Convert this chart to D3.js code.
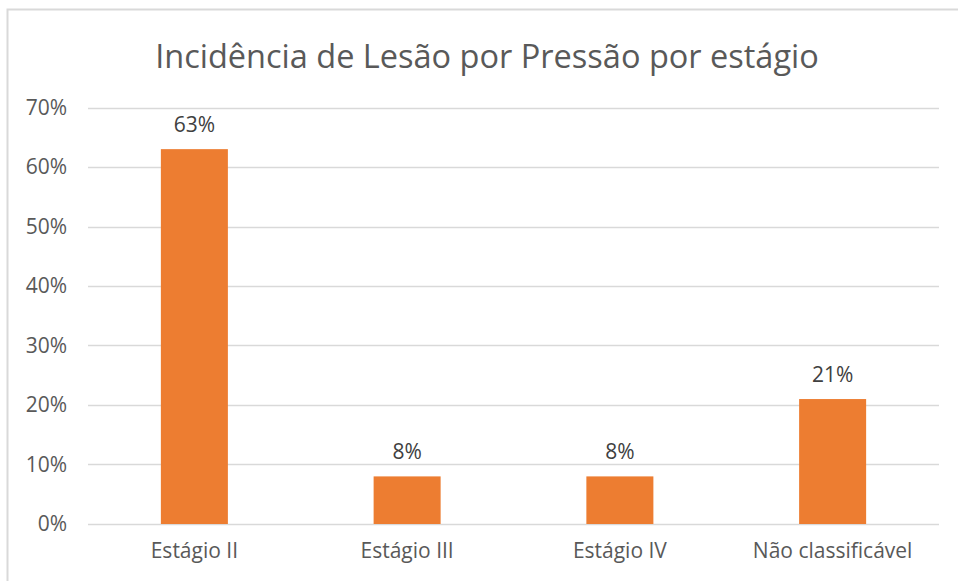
<!DOCTYPE html>
<html>
<head>
<meta charset="utf-8">
<script src="https://cdn.jsdelivr.net/npm/d3@7"></script>
<style>
  html, body { margin: 0; padding: 0; background: #fff; }
  svg { display: block; font-family: "Open Sans", "Noto Sans", sans-serif; }
</style>
</head>
<body>
<svg id="chart"></svg>
<script>
const categories = ['Estágio II', 'Estágio III', 'Estágio IV', 'Não classificável'];
const values = [0.63, 0.08, 0.08, 0.21];
const yTicks = [0, 0.1, 0.2, 0.3, 0.4, 0.5, 0.6, 0.7];
const title = 'Incidência de Lesão por Pressão por estágio';

const width = 958;
const height = 581;
const margin = { top: 107.5, right: 19, bottom: 57, left: 88 };

const svg = d3.select('#chart')
  .attr('width', width)
  .attr('height', height)
  .attr('viewBox', `0 0 ${width} ${height}`);

// chart frame (cropped on right/bottom in the original)
svg.append('rect')
  .attr('x', 7.5)
  .attr('y', 9.5)
  .attr('width', 1000)
  .attr('height', 1000)
  .attr('fill', '#fff')
  .attr('stroke', '#d9d9d9')
  .attr('stroke-width', 2);

const x = d3.scaleBand()
  .domain(categories)
  .range([margin.left, width - margin.right])
  .paddingInner(0.685)
  .paddingOuter(0.3425);

const y = d3.scaleLinear()
  .domain([0, 0.7])
  .range([height - margin.bottom, margin.top]);

// Gridlines
svg.append('g')
  .selectAll('line')
  .data(yTicks)
  .join('line')
  .attr('x1', margin.left)
  .attr('x2', width - margin.right)
  .attr('y1', d => Math.round(y(d)) + 0.5)
  .attr('y2', d => Math.round(y(d)) + 0.5)
  .attr('stroke', '#d9d9d9')
  .attr('stroke-width', 1.5);

// Y-axis labels
const yAxis = svg.append('g')
  .attr('transform', `translate(${margin.left},0)`)
  .call(d3.axisLeft(y).tickValues(yTicks).tickFormat(d3.format('.0%')).tickSize(0).tickPadding(21));
yAxis.select('.domain').remove();
yAxis.selectAll('text')
  .attr('font-size', '21px')
  .attr('font-family', '"Open Sans", sans-serif')
  .attr('fill', '#595959');

// X-axis labels
const xAxis = svg.append('g')
  .attr('transform', `translate(0,${height - margin.bottom})`)
  .call(d3.axisBottom(x).tickSize(0).tickPadding(19));
xAxis.select('.domain').remove();
xAxis.selectAll('text')
  .attr('font-size', '21px')
  .attr('font-family', '"Open Sans", sans-serif')
  .attr('fill', '#595959');

// Bars
svg.selectAll('.bar')
  .data(values)
  .join('rect')
  .attr('class', 'bar')
  .attr('x', (d, i) => x(categories[i]))
  .attr('y', d => y(d))
  .attr('width', x.bandwidth())
  .attr('height', d => y(0) - y(d))
  .attr('fill', '#ed7d31');

// Value labels
svg.selectAll('.val')
  .data(values)
  .join('text')
  .attr('class', 'val')
  .attr('x', (d, i) => x(categories[i]) + x.bandwidth() / 2)
  .attr('y', d => y(d) - 17)
  .attr('text-anchor', 'middle')
  .attr('font-size', '21px')
  .attr('fill', '#404040')
  .text(d => d3.format('.0%')(d));

// Title
svg.append('text')
  .attr('x', 487)
  .attr('y', 68)
  .attr('text-anchor', 'middle')
  .attr('font-size', '32.5px')
  .attr('fill', '#595959')
  .text(title);
</script>
</body>
</html>
